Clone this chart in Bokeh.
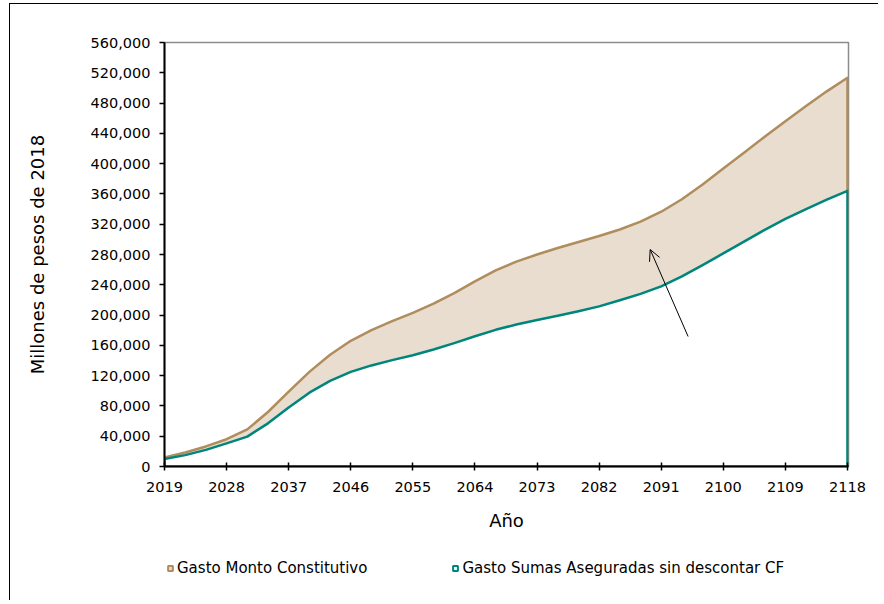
from bokeh.plotting import figure
from bokeh.layouts import column
from bokeh.models import (Range1d, FixedTicker, NumeralTickFormatter, Legend,
                          LegendItem, Arrow, OpenHead, ColumnDataSource)
from bokeh.embed import file_html
from bokeh.resources import INLINE

years = [2019, 2022, 2025, 2028, 2031, 2034, 2037, 2040, 2043, 2046, 2049, 2052,
         2055, 2058, 2061, 2064, 2067, 2070, 2073, 2076, 2079, 2082, 2085, 2088,
         2091, 2094, 2097, 2100, 2103, 2106, 2109, 2112, 2115, 2118]
monto_constitutivo = [12000, 18500, 26500, 36000, 49000, 72000, 99000, 125000,
                      147500, 166000, 180000, 192000, 203000, 215000, 229000,
                      244500, 259000, 270500, 280000, 288500, 296500, 304500,
                      313000, 323500, 336500, 353000, 372500, 393500, 414500,
                      435500, 456000, 476000, 495500, 513500]
sumas_aseguradas = [10000, 15000, 22000, 30500, 39500, 57000, 78000, 97500,
                    113000, 125000, 133500, 140500, 147000, 154500, 163000,
                    172000, 180500, 187500, 193500, 199000, 205000, 211500,
                    219500, 228000, 238000, 251000, 266000, 281500, 297000,
                    312500, 327000, 340000, 352500, 364000]
x_ticks = [2019, 2028, 2037, 2046, 2055, 2064, 2073, 2082, 2091, 2100, 2109, 2118]
y_ticks = [0, 40000, 80000, 120000, 160000, 200000, 240000, 280000, 320000,
           360000, 400000, 440000, 480000, 520000, 560000]
series_names = ["Gasto Monto Constitutivo", "Gasto Sumas Aseguradas sin descontar CF"]

BROWN = "#B08D5C"
TAN = "#E8DDCF"
TEAL = "#00857D"
FONT = "DejaVu Sans"

p = figure(width=868, height=552, output_backend="svg", toolbar_location=None,
           x_range=Range1d(2019, 2118.15), y_range=Range1d(0, 560000),
           min_border_left=154, min_border_right=30, min_border_top=38,
           min_border_bottom=90)
p.background_fill_color = "white"
p.border_fill_color = "white"
p.outline_line_color = "#8c8c8c"
p.outline_line_width = 1.5
p.xgrid.visible = False
p.ygrid.visible = False

def closed(xs, ys):
    return xs + [xs[-1], xs[0]], ys + [0, 0]

bx, by = closed(years, monto_constitutivo)
p.patch(x=bx, y=by, fill_color=TAN, line_color=BROWN, line_width=2.5, line_join="round")
tx, ty = closed(years, sumas_aseguradas)
p.patch(x=tx, y=ty, fill_color="white", line_color=TEAL, line_width=2.5, line_join="round")

p.add_layout(Arrow(end=OpenHead(size=11, line_width=1, line_color="black"),
                   x_start=2094.9, y_start=171700, x_end=2089.4, y_end=286600,
                   line_width=1, line_color="black"))

for ax in (p.xaxis, p.yaxis):
    ax.axis_line_color = "black"
    ax.axis_line_width = 2
    ax.major_tick_line_color = "black"
    ax.major_tick_line_width = 1.5
    ax.minor_tick_line_color = None
    ax.major_label_text_font = FONT
    ax.major_label_text_font_size = "14.5px"
    ax.major_label_text_color = "black"
    ax.axis_label_text_font = FONT
    ax.axis_label_text_font_style = "normal"
    ax.axis_label_text_color = "black"

p.xaxis.ticker = FixedTicker(ticks=x_ticks)
p.yaxis.ticker = FixedTicker(ticks=y_ticks)
p.yaxis.formatter = NumeralTickFormatter(format="0,0")
p.xaxis.major_tick_in = 4
p.xaxis.major_tick_out = 4
p.yaxis.major_tick_in = 0
p.yaxis.major_tick_out = 5
p.xaxis.major_label_standoff = 11
p.yaxis.major_label_standoff = 9
p.xaxis.axis_label = "Año"
p.yaxis.axis_label = "Millones de pesos de 2018"
p.xaxis.axis_label_text_font_size = "18px"
p.yaxis.axis_label_text_font_size = "18px"
p.xaxis.axis_label_standoff = 15
p.yaxis.axis_label_standoff = 40

# legend strip below the chart (its frame lines up with the chart's frame)
lf = figure(width=868, height=44, output_backend="svg", toolbar_location=None,
            x_range=Range1d(0, 1), y_range=Range1d(0, 1),
            x_axis_location=None, y_axis_location=None, min_border=0,
            min_border_left=154, min_border_right=30)
lf.outline_line_color = None
lf.xgrid.visible = False
lf.ygrid.visible = False
lf.background_fill_color = "white"
lf.border_fill_color = "white"
hidden = ColumnDataSource(dict(x=[-5], y=[-5]))
r1 = lf.scatter(x="x", y="y", source=hidden, marker="square", size=7,
                fill_color=TAN, line_color=BROWN, line_width=2)
r2 = lf.scatter(x="x", y="y", source=hidden, marker="square", size=7,
                fill_color="white", line_color=TEAL, line_width=2)
legend = Legend(items=[LegendItem(label=series_names[0], renderers=[r1]),
                       LegendItem(label=series_names[1], renderers=[r2])],
                orientation="horizontal", location=(0, 22),
                glyph_width=12, glyph_height=20, label_standoff=1, spacing=82,
                padding=0, margin=0, border_line_alpha=0, background_fill_alpha=0,
                label_text_font=FONT, label_text_font_size="15px",
                label_text_color="black")
lf.add_layout(legend)

layout = column(p, lf, spacing=0,
                styles={"border-left": "1px solid #000", "border-top": "1px solid #000",
                        "margin-top": "3px", "margin-left": "9px"})

open("out.html", "w").write(file_html(layout, INLINE))
